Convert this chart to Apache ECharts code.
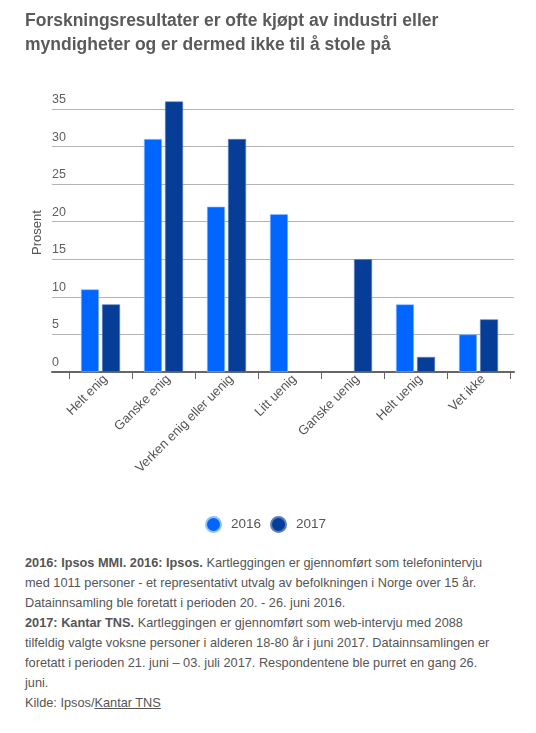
<!DOCTYPE html>
<html>
<head>
<meta charset="utf-8">
<script src="https://cdn.jsdelivr.net/npm/echarts@6/dist/echarts.min.js"></script>
<style>
  html, body { margin: 0; padding: 0; background: #fff; }
  body { width: 536px; height: 733px; position: relative; overflow: hidden;
         font-family: Arial, "Liberation Sans", sans-serif; color: #555; }
  #title { position: absolute; left: 25px; top: 8px; font-size: 17.5px; font-weight: bold;
           line-height: 24px; color: #5a5a5a; }
  #chart { position: absolute; left: 0; top: 0; width: 536px; height: 545px; }
  #notes { position: absolute; left: 25px; top: 553px; font-size: 12.75px; line-height: 20px; color: #555; }
  #notes b { color: #555; }
  #notes u { text-decoration: underline; }
</style>
</head>
<body>
<div id="chart"></div>
<div id="title">Forskningsresultater er ofte kjøpt av industri eller<br>myndigheter og er dermed ikke til å stole på</div>
<div id="notes">
  <b>2016: Ipsos MMI. 2016: Ipsos.</b> Kartleggingen er gjennomført som telefonintervju<br>
  med 1011 personer - et representativt utvalg av befolkningen i Norge over 15 år.<br>
  Datainnsamling ble foretatt i perioden 20. - 26. juni 2016.<br>
  <b>2017: Kantar TNS.</b> Kartleggingen er gjennomført som web-intervju med 2088<br>
  tilfeldig valgte voksne personer i alderen 18-80 år i juni 2017. Datainnsamlingen er<br>
  foretatt i perioden 21. juni – 03. juli 2017. Respondentene ble purret en gang 26.<br>
  juni.<br>
  Kilde: Ipsos/<u>Kantar TNS</u>
</div>
<script>
  // svar-kategorier
  var categories = ['Helt enig', 'Ganske enig', 'Verken enig eller uenig', 'Litt uenig',
    'Ganske uenig', 'Helt uenig', 'Vet ikke'];
  var years = ['2016', '2017'];
  // prosent per år
  var values2016 = [11, 31, 22, 21, null, 9, 5];
  var values2017 = [9, 36, 31, null, 15, 2, 7];
  var yTicks = { min: 0, max: 35, interval: 5 };

  var colors = ['#0066ff', '#063d96'];
  var font = 'Arial, "Liberation Sans", sans-serif';

  var chart = echarts.init(document.getElementById('chart'), null, { renderer: 'canvas' });

  var option = {
    animation: false,
    textStyle: { fontFamily: font },
    legend: {
      data: years,
      left: 200,
      top: 511,
      icon: 'circle',
      itemWidth: 15,
      itemHeight: 15,
      itemGap: 9,
      textStyle: { fontSize: 13.5, color: '#555', fontFamily: font, padding: [0, 0, 0, 5] }
    },
    grid: [
      // bars
      { left: 69, right: 26, top: 109, bottom: 173 },
      // grid lines + axis line, a bit wider
      { left: 52, right: 22, top: 109, bottom: 173 }
    ],
    xAxis: [
      {
        type: 'category',
        gridIndex: 0,
        data: categories,
        axisLine: { show: false },
        axisTick: { show: true, length: 7, lineStyle: { color: '#666', width: 1 } },
        axisLabel: {
          rotate: 45,
          margin: 10,
          padding: [0, -7, 0, 0],
          fontSize: 13,
          color: '#555',
          fontFamily: font
        }
      },
      {
        type: 'value',
        gridIndex: 1,
        axisLine: { show: true, lineStyle: { color: '#666', width: 2 } },
        axisTick: { show: false },
        axisLabel: { show: false },
        splitLine: { show: false }
      }
    ],
    yAxis: [
      {
        type: 'value',
        gridIndex: 0,
        min: yTicks.min,
        max: yTicks.max,
        interval: yTicks.interval,
        show: false
      },
      {
        type: 'value',
        gridIndex: 1,
        min: yTicks.min,
        max: yTicks.max,
        interval: yTicks.interval,
        name: 'Prosent',
        nameLocation: 'middle',
        nameGap: 8,
        nameMoveOverlap: false,
        nameTextStyle: { fontSize: 13, color: '#555', fontFamily: font, padding: [0, 0, 0, 16] },
        axisLine: { show: false },
        axisTick: { show: false },
        axisLabel: {
          inside: true,
          margin: 0,
          verticalAlign: 'bottom',
          padding: [0, 0, 3, 0],
          fontSize: 12.5,
          color: '#5f5f5f',
          fontFamily: font
        },
        splitLine: { lineStyle: { color: '#b4b4b4', width: 1 } }
      }
    ],
    series: [
      {
        name: years[0],
        type: 'bar',
        xAxisIndex: 0,
        yAxisIndex: 0,
        data: values2016,
        clip: false,
        barWidth: 18,
        barGap: '17%',
        itemStyle: { color: colors[0], borderColor: '#8ec2ff', borderWidth: 0.6 }
      },
      {
        name: years[1],
        type: 'bar',
        xAxisIndex: 0,
        yAxisIndex: 0,
        data: values2017,
        clip: false,
        barWidth: 18,
        barGap: '17%',
        itemStyle: { color: colors[1], borderColor: '#5a7fc0', borderWidth: 0.6 }
      }
    ]
  };

  chart.setOption(option);
</script>
</body>
</html>
